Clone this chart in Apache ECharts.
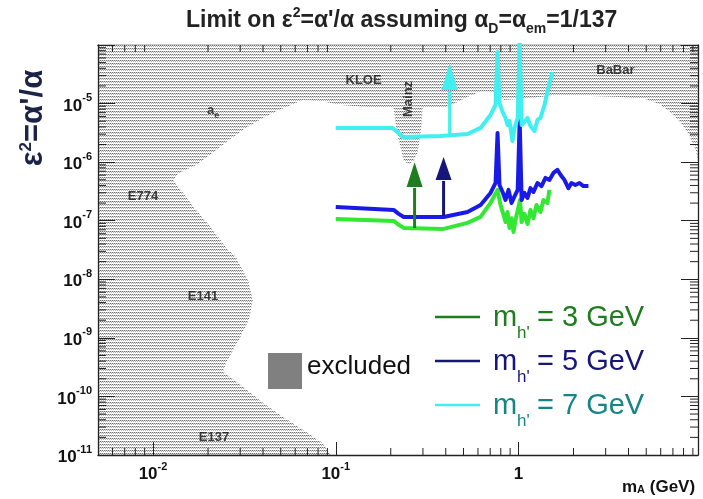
<!DOCTYPE html>
<html>
<head>
<meta charset="utf-8">
<script src="https://cdn.jsdelivr.net/npm/echarts@6/dist/echarts.min.js"></script>
<style>
html, body { margin: 0; padding: 0; background: #fff; }
#limitPlot { width: 703px; height: 499px; }
</style>
</head>
<body>
<div id="limitPlot"></div>
<script>
var X_MIN = 0.005, X_MAX = 9.6;
var Y_MIN = 1e-11, Y_MAX = 1e-4;
var FONT = "'Liberation Sans', Arial, sans-serif";
var TITLE_FONT = "'Liberation Sans Narrow', 'Liberation Sans', sans-serif";

/// DATA ///

// excluded region boundary, walked from the right edge round to the bottom edge
var bndMass = [9.6, 9.39, 8.59, 7.58, 6.68, 5.89, 4.94, 3.61, 2.47, 1.63,
    1.32, 0.99, 0.83, 0.77, 0.70, 0.62, 0.526, 0.453, 0.399, 0.2987,
    0.2951, 0.2877, 0.2806, 0.2669, 0.2506, 0.2354, 0.2295, 0.2208, 0.2128, 0.2075,
    0.1762, 0.1065, 0.0828, 0.0660, 0.0604, 0.0489, 0.0399, 0.0322, 0.0260, 0.0213,
    0.0172, 0.0139, 0.01286, 0.0146, 0.0172, 0.0213, 0.0251, 0.0284, 0.0331, 0.0352,
    0.0335, 0.0295, 0.0251, 0.0242, 0.0311, 0.0399, 0.0513, 0.0660, 0.0849, 0.0939];
var bndEps = [1.01e-6, 1.55e-6, 2.91e-6, 5.05e-6, 7.48e-6, 9.84e-6, 1.20e-5, 1.30e-5, 1.35e-5, 1.40e-5,
    1.30e-5, 1.20e-5, 1.15e-5, 1.5e-5, 1.6e-5, 1.6e-5, 1.3e-5, 1.02e-5, 8.75e-6, 8.75e-6,
    4.31e-6, 2.39e-6, 1.49e-6, 1.05e-6, 9.31e-7, 1.05e-6, 1.49e-6, 2.39e-6, 4.31e-6, 8.41e-6,
    8.41e-6, 9.46e-6, 1.11e-5, 1.15e-5, 1.02e-5, 7.78e-6, 5.68e-6, 3.84e-6, 2.39e-6, 1.44e-6,
    8.95e-7, 6.54e-7, 4.97e-7, 2.98e-7, 1.53e-7, 6.97e-8, 3.44e-8, 2.41e-8, 9.77e-9, 4.45e-9,
    2.03e-9, 9.25e-10, 3.74e-10, 2.63e-10, 1.46e-10, 7.78e-11, 4.49e-11, 2.69e-11, 1.61e-11, 1e-11];

// m_h' = 3 GeV
var mass3 = [0.1, 0.2075, 0.22, 0.2354, 0.389, 0.526, 0.620, 0.703, 0.768, 0.797,
    0.828, 0.849, 0.871, 0.893, 0.916, 0.939, 0.963, 1.02, 1.04, 1.078,
    1.12, 1.163, 1.208, 1.254, 1.319, 1.37, 1.44, 1.476];
var eps3 = [1.07e-7, 9.93e-8, 8.6e-8, 7.54e-8, 7.25e-8, 9.17e-8, 1.16e-7, 2.01e-7, 3.36e-7, 1.86e-7,
    1.26e-7, 9.5e-8, 1.41e-7, 7.54e-8, 1.1e-7, 6.44e-8, 1.03e-7, 2.26e-7, 9.5e-8, 1.31e-7,
    8.8e-8, 1.53e-7, 1.1e-7, 1.86e-7, 1.41e-7, 2.26e-7, 2.01e-7, 3.36e-7];

// m_h' = 5 GeV
var mass5 = [0.1, 0.2075, 0.22, 0.2354, 0.389, 0.526, 0.620, 0.703, 0.749, 0.768,
    0.787, 0.818, 0.849, 0.882, 0.916, 0.951, 0.99, 1.015, 1.04, 1.078,
    1.12, 1.163, 1.208, 1.27, 1.336, 1.405, 1.476, 1.553, 1.633, 1.698,
    1.783, 1.875, 1.949, 2.048, 2.155, 2.265, 2.414];
var eps5 = [1.72e-7, 1.53e-7, 1.32e-7, 1.16e-7, 1.16e-7, 1.41e-7, 1.86e-7, 2.98e-7, 4.41e-7, 3.15e-6,
    4.08e-7, 3.1e-7, 2.26e-7, 3.36e-7, 2.01e-7, 2.6e-7, 3.36e-7, 5.25e-6, 2.26e-7, 2.98e-7,
    2.45e-7, 3.6e-7, 3.1e-7, 4.4e-7, 3.9e-7, 5.37e-7, 4.97e-7, 6.54e-7, 7.36e-7, 6.1e-7,
    4.97e-7, 3.6e-7, 4.4e-7, 4.08e-7, 4.4e-7, 3.9e-7, 3.9e-7];

// m_h' = 7 GeV
var mass7 = [0.1, 0.204, 0.22, 0.232, 0.375, 0.526, 0.620, 0.703, 0.749, 0.768,
    0.787, 0.818, 0.849, 0.871, 0.893, 0.927, 0.951, 0.99, 1.015, 1.04,
    1.078, 1.12, 1.163, 1.223, 1.27, 1.319, 1.387, 1.44, 1.496, 1.534];
var eps7 = [3.84e-6, 3.84e-6, 3.2e-6, 2.69e-6, 2.8e-6, 3.03e-6, 3.84e-6, 6.39e-6, 9.46e-6, 7.6e-5,
    1.02e-5, 7.19e-6, 5.68e-6, 4.31e-6, 5.05e-6, 2.3e-6, 3.84e-6, 5.68e-6, 1.2e-4, 4.31e-6,
    4.85e-6, 5.68e-6, 4.15e-6, 3.41e-6, 5.25e-6, 5.68e-6, 9.46e-6, 1.58e-5, 2.53e-5, 3.46e-5];

// arrows: mass, foot, base of head, tip
var arrowMass = [0.270, 0.389, 0.420];
var arrowFoot = [7.5e-8, 1.2e-7, 2.9e-6];
var arrowNeck = [3.77e-7, 4.97e-7, 1.71e-5];
var arrowTip = [1.0e-6, 1.23e-6, 4.93e-5];

// experiment tags inside the excluded region
var tagText = ['KLOE', 'Mainz', 'a_e', 'E774', 'E141', 'E137', 'BaBar'];
var tagMass = [0.142, 0.2506, 0.0213, 0.00881, 0.01876, 0.02155, 3.39];
var tagEps = [2.53e-5, 1.2e-5, 7.19e-6, 2.55e-7, 5.0e-9, 1.97e-11, 3.74e-5];

var colors = {
    green: '#33e833', blue: '#1a1ae6', cyan: '#40efef',
    greenDark: '#1f7d1f', navy: '#16167a', teal: '#178585'
};
var arrowColors = [colors.greenDark, colors.navy, colors.cyan];

/// HELPERS ///

function zip(a, b) {
    var out = [];
    for (var i = 0; i < a.length; i++) {
        out.push([a[i], b[i]]);
    }
    return out;
}

// dotted grey fill like the ROOT hatch style
function makeHatch() {
    var c = document.createElement('canvas');
    c.width = 4;
    c.height = 3;
    var ctx = c.getContext('2d');
    ctx.fillStyle = '#ffffff';
    ctx.fillRect(0, 0, 4, 3);
    ctx.fillStyle = '#707070';
    ctx.fillRect(0, 0, 1, 1);
    ctx.fillRect(2, 0, 1, 1);
    ctx.fillStyle = '#d2d2d2';
    ctx.fillRect(1, 0, 1, 1);
    ctx.fillRect(3, 0, 1, 1);
    ctx.fillStyle = '#b0b0b0';
    ctx.fillRect(1, 1, 1, 1);
    ctx.fillRect(3, 1, 1, 1);
    return { image: c, repeat: 'repeat' };
}

// 10^n tick labels; the y axis drops its top label like the original
function powLabel(v) {
    var e = Math.log(v) / Math.LN10;
    var r = Math.round(e);
    if (Math.abs(e - r) > 0.01) return '';
    if (r === 0) return '{b|1}';
    return '{b|10}{s|' + r + '}';
}

function powLabelY(v) {
    if (v > Y_MAX * 0.99) return '';
    return powLabel(v);
}

var labelRich = {
    b: { fontSize: 17, fontFamily: FONT, fontWeight: 'bold', color: '#111', lineHeight: 22, verticalAlign: 'bottom' },
    s: { fontSize: 11, fontFamily: FONT, fontWeight: 'bold', color: '#111', lineHeight: 11, verticalAlign: 'top' }
};

// minor ticks at 2..9 x 10^n, which the log axis does not place itself
var minorX = [], minorY = [];
for (var n = -3; n <= 1; n++) {
    for (var k = 2; k <= 9; k++) {
        var v = k * Math.pow(10, n);
        if (v > X_MIN && v < X_MAX) minorX.push(v);
    }
}
for (n = -11; n < -4; n++) {
    for (k = 2; k <= 9; k++) {
        minorY.push(k * Math.pow(10, n));
    }
}

function renderMinorTicks(params, api) {
    var lo = api.coord([X_MIN, Y_MIN]);
    var hi = api.coord([X_MAX, Y_MAX]);
    var st = { stroke: '#222', lineWidth: 1 };
    var kids = [];
    minorX.forEach(function (m) {
        var x = api.coord([m, Y_MIN])[0];
        kids.push({ type: 'line', shape: { x1: x, y1: lo[1], x2: x, y2: lo[1] - 7 }, style: st });
        kids.push({ type: 'line', shape: { x1: x, y1: hi[1], x2: x, y2: hi[1] + 7 }, style: st });
    });
    minorY.forEach(function (e) {
        var y = api.coord([X_MIN, e])[1];
        kids.push({ type: 'line', shape: { x1: lo[0], y1: y, x2: lo[0] + 8, y2: y }, style: st });
        kids.push({ type: 'line', shape: { x1: hi[0], y1: y, x2: hi[0] - 8, y2: y }, style: st });
    });
    return { type: 'group', children: kids };
}

var hatch = makeHatch();

function renderExcluded(params, api) {
    var pts = [api.coord([X_MIN, Y_MAX]), api.coord([X_MAX, Y_MAX])];
    for (var i = 0; i < bndMass.length; i++) {
        pts.push(api.coord([bndMass[i], bndEps[i]]));
    }
    pts.push(api.coord([X_MIN, Y_MIN]));
    return { type: 'polygon', shape: { points: pts }, style: { fill: hatch } };
}

function renderArrow(params, api) {
    var foot = api.coord([api.value(0), api.value(1)]);
    var neck = api.coord([api.value(0), api.value(2)]);
    var tip = api.coord([api.value(0), api.value(3)]);
    var col = arrowColors[params.dataIndex];
    return {
        type: 'group',
        children: [
            { type: 'line', shape: { x1: foot[0], y1: foot[1], x2: neck[0], y2: neck[1] + 1 }, style: { stroke: col, lineWidth: 3 } },
            { type: 'polygon', shape: { points: [[neck[0] - 8, neck[1]], [neck[0] + 8, neck[1]], [tip[0], tip[1]]] }, style: { fill: col } }
        ]
    };
}

function makeAxis(kind, pos, showLabels, tickLen, z) {
    return {
        type: 'log',
        logBase: 10,
        min: kind === 'x' ? X_MIN : Y_MIN,
        max: kind === 'x' ? X_MAX : Y_MAX,
        position: pos,
        z: z,
        axisLine: { show: true, onZero: false, lineStyle: { color: '#222', width: 1.3 } },
        axisTick: { show: true, inside: true, length: tickLen, lineStyle: { color: '#222', width: 1 } },
        axisLabel: {
            show: showLabels,
            formatter: kind === 'x' ? powLabel : powLabelY,
            rich: labelRich,
            margin: 6
        },
        splitLine: { show: false },
        minorTick: { show: false }
    };
}

/// LEGEND AND TEXT ///

function legendRow(y, mass, lineCol, textCol) {
    return [
        { type: 'line', shape: { x1: 435, y1: y, x2: 480, y2: y }, style: { stroke: lineCol, lineWidth: 2.5 } },
        { type: 'text', x: 493, y: y + 1, style: { text: 'm', fontSize: 29, fontFamily: FONT, fill: textCol, verticalAlign: 'middle' } },
        { type: 'text', x: 517, y: y + 16, style: { text: "h'", fontSize: 17, fontFamily: FONT, fill: textCol, verticalAlign: 'middle' } },
        { type: 'text', x: 537, y: y + 1, style: { text: '= ' + mass + ' GeV', fontSize: 29, fontFamily: FONT, fill: textCol, verticalAlign: 'middle' } }
    ];
}

var graphics = [
    {
        type: 'text', x: 33, y: 118, rotation: Math.PI / 2,
        style: {
            text: '\u03b5{sup|2}=\u03b1\'/\u03b1',
            align: 'center', verticalAlign: 'middle',
            fontSize: 31, fontWeight: 'bold', fontFamily: FONT, fill: '#1b2346',
            rich: {
                sup: { fontSize: 17, fontWeight: 'bold', fontFamily: FONT, fill: '#1b2346', lineHeight: 17, verticalAlign: 'top' }
            }
        }
    },
    {
        type: 'text', x: 622, y: 487,
        style: {
            text: 'm{sub|A} (GeV)',
            verticalAlign: 'middle',
            fontSize: 17, fontWeight: 'bold', fontFamily: FONT, fill: '#111',
            rich: {
                sub: { fontSize: 11, fontWeight: 'bold', fontFamily: FONT, fill: '#111', lineHeight: 11, verticalAlign: 'bottom' }
            }
        }
    },
    { type: 'rect', shape: { x: 268, y: 353, width: 34, height: 36 }, style: { fill: '#808080' } },
    { type: 'text', x: 307, y: 367, style: { text: 'excluded', fontSize: 26, fontFamily: FONT, fill: '#111', verticalAlign: 'middle' } }
];
graphics = graphics.concat(legendRow(317, 3, colors.greenDark, colors.greenDark));
graphics = graphics.concat(legendRow(361, 5, colors.navy, colors.navy));
graphics = graphics.concat(legendRow(405, 7, colors.cyan, colors.teal));

/// CHART ///

var chart = echarts.init(document.getElementById('limitPlot'), null, { renderer: 'canvas' });

var tagData = tagText.map(function (t, i) {
    var item = { name: t, value: [tagMass[i], tagEps[i]] };
    if (t === 'Mainz') item.label = { rotate: 90 };
    return item;
});

var options = {
    animation: false,
    backgroundColor: '#fff',
    title: {
        text: 'Limit on \u03b5{sup|2}=\u03b1\'/\u03b1 assuming \u03b1{sub|D}=\u03b1{sub|em}=1/137',
        left: 181,
        top: 1,
        textStyle: {
            fontSize: 23, fontWeight: 'bold', color: '#222', lineHeight: 30,
            fontFamily: TITLE_FONT,
            rich: {
                sup: { fontSize: 14, fontWeight: 'bold', color: '#222', lineHeight: 14, verticalAlign: 'top', fontFamily: TITLE_FONT },
                sub: { fontSize: 14, fontWeight: 'bold', color: '#222', lineHeight: 14, verticalAlign: 'bottom', fontFamily: TITLE_FONT }
            }
        }
    },
    grid: { left: 98, right: 5, top: 45, bottom: 44, outerBoundsMode: 'none' },
    xAxis: [makeAxis('x', 'bottom', true, 13, 5), makeAxis('x', 'top', false, 13, 0)],
    yAxis: [makeAxis('y', 'left', true, 17, 5), makeAxis('y', 'right', false, 17, 5)],
    graphic: graphics,
    series: [
        {
            name: 'excluded',
            type: 'custom',
            renderItem: renderExcluded,
            data: [[0.1, 1e-8]],
            silent: true,
            z: 1
        },
        {
            name: "m_h' = 3 GeV",
            type: 'line',
            data: zip(mass3, eps3),
            showSymbol: false,
            lineStyle: { color: colors.green, width: 4, join: 'round' },
            z: 3
        },
        {
            name: "m_h' = 5 GeV",
            type: 'line',
            data: zip(mass5, eps5),
            showSymbol: false,
            lineStyle: { color: colors.blue, width: 4, join: 'round' },
            z: 3
        },
        {
            name: "m_h' = 7 GeV",
            type: 'line',
            data: zip(mass7, eps7),
            showSymbol: false,
            lineStyle: { color: colors.cyan, width: 4, join: 'round' },
            z: 3
        },
        {
            name: 'arrows',
            type: 'custom',
            renderItem: renderArrow,
            data: arrowMass.map(function (m, i) { return [m, arrowFoot[i], arrowNeck[i], arrowTip[i]]; }),
            encode: { x: 0, y: [1, 2, 3] },
            silent: true,
            z: 4
        },
        {
            name: 'tags',
            type: 'scatter',
            symbolSize: 0,
            data: tagData,
            silent: true,
            z: 4,
            label: {
                show: true,
                position: 'inside',
                fontSize: 13,
                fontWeight: 'bold',
                fontFamily: FONT,
                color: '#111',
                formatter: function (p) {
                    return p.name === 'a_e' ? '{a|a}{e|e}' : p.name;
                },
                rich: {
                    a: { fontSize: 13, fontWeight: 'bold', fontFamily: FONT, color: '#111', lineHeight: 16, verticalAlign: 'top' },
                    e: { fontSize: 9, fontWeight: 'bold', fontFamily: FONT, color: '#111', lineHeight: 9, verticalAlign: 'bottom' }
                }
            }
        },
        {
            name: 'minor ticks',
            type: 'custom',
            renderItem: renderMinorTicks,
            data: [[0.1, 1e-8]],
            silent: true,
            z: 6
        }
    ]
};

chart.setOption(options);
</script>
</body>
</html>
